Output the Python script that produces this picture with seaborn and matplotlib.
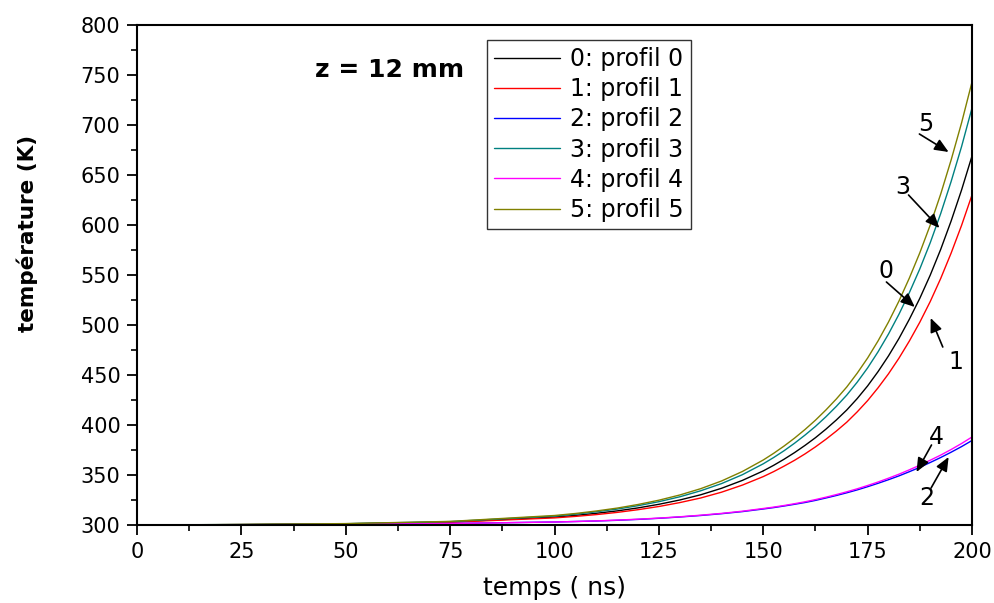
import matplotlib
matplotlib.use("Agg")
import matplotlib.pyplot as plt
import numpy as np
import pandas as pd
import seaborn as sns
from matplotlib.ticker import MultipleLocator

# ---------------- data ----------------
temps = [0, 25, 50, 75, 100, 105, 110, 115, 120, 125, 130, 135, 140, 145, 150,
         152.5, 155, 157.5, 160, 162.5, 165, 167.5, 170, 172.5, 175, 177.5,
         180, 182.5, 185, 187.5, 190, 192.5, 195, 197.5, 200]

profil_0 = [300, 300.4, 301.2, 303.0, 307.9, 309.6, 311.7, 314.1, 317.1, 320.7, 325.0, 330.2, 336.7, 344.6, 354.1,
            359.7, 365.8, 372.4, 379.6, 387.3, 395.8, 405.0, 415.0, 426.4, 439.1, 453.4,
            469.1, 486.5, 505.8, 526.7, 549.9, 575.6, 604.0, 635.0, 669.0]
profil_1 = [300, 300.4, 301.0, 302.7, 307.1, 308.6, 310.4, 312.6, 315.3, 318.5, 322.4, 327.0, 332.8, 339.9, 348.4,
            353.4, 358.9, 364.7, 371.1, 378.1, 385.7, 393.9, 402.8, 413.1, 424.4, 437.2,
            451.2, 466.8, 484.0, 502.8, 523.5, 546.5, 571.9, 599.6, 630.0]
profil_2 = [300, 300.2, 300.6, 301.5, 303.0, 303.5, 304.0, 304.7, 305.6, 306.7, 308.0, 309.5, 311.3, 313.4, 316.0,
            317.4, 319.0, 320.7, 322.5, 324.6, 327.0, 329.5, 332.2, 335.1, 338.3, 341.7,
            345.3, 349.1, 353.3, 357.7, 362.5, 367.5, 372.8, 378.4, 384.5]
profil_3 = [300, 300.5, 301.3, 303.4, 308.9, 310.8, 313.2, 315.9, 319.3, 323.3, 328.2, 334.2, 341.4, 350.3, 361.2,
            367.5, 374.3, 381.8, 389.9, 398.6, 408.2, 418.6, 429.9, 442.8, 457.1, 473.2,
            491.0, 510.7, 532.4, 556.1, 582.3, 611.4, 643.5, 678.4, 717.0]
profil_4 = [300, 300.2, 300.6, 301.5, 303.0, 303.5, 304.1, 304.9, 305.8, 306.9, 308.2, 309.8, 311.6, 313.8, 316.5,
            317.9, 319.5, 321.3, 323.2, 325.4, 327.8, 330.4, 333.2, 336.2, 339.5, 343.0,
            346.8, 350.8, 355.2, 359.8, 364.8, 369.9, 375.5, 381.5, 388.0]
profil_5 = [300, 300.5, 301.4, 303.6, 309.5, 311.5, 314.0, 316.9, 320.5, 324.8, 330.0, 336.3, 344.0, 353.5, 365.0,
            371.7, 379.0, 386.9, 395.5, 404.8, 415.0, 426.0, 438.0, 451.8, 467.0, 484.1,
            503.0, 523.9, 547.0, 572.2, 600.0, 630.9, 665.0, 702.1, 743.0]

labels = ["0: profil 0", "1: profil 1", "2: profil 2", "3: profil 3", "4: profil 4", "5: profil 5"]
colors = ["#000000", "#ff0000", "#0000ff", "#008080", "#ff00ff", "#808000"]

# annotation labels: text position, arrow tail, arrow tip (data coords)
ann_text = ["5", "3", "0", "1", "4", "2"]
ann_xy_text = [(188.9, 701), (183.4, 638), (179.5, 554), (196.1, 463), (191.5, 388), (189.1, 327)]
ann_tail = [(187.4, 691), (184.8, 630), (179.5, 543), (193.0, 478), (190.3, 380), (190.2, 337)]
ann_tip = [(194.4, 673), (192.2, 597), (186.3, 518), (190.1, 507), (186.7, 353), (194.4, 368)]

# ---------------- build long table ----------------
series = [profil_0, profil_1, profil_2, profil_3, profil_4, profil_5]
rows = []
for lab, vals in zip(labels, series):
    for t, v in zip(temps, vals):
        rows.append({"temps": t, "T": v, "profil": lab})
df = pd.DataFrame(rows)

sns.set_style("ticks")
plt.rcParams["font.family"] = ["DejaVu Sans"]
plt.rcParams["text.color"] = "black"
plt.rcParams["axes.labelcolor"] = "black"
plt.rcParams["xtick.color"] = "black"
plt.rcParams["ytick.color"] = "black"

fig = plt.figure(figsize=(9.94, 6.03), dpi=100)
ax = fig.add_axes([137 / 994, 78 / 603, 835 / 994, 500 / 603])

sns.lineplot(data=df, x="temps", y="T", hue="profil", hue_order=labels,
             palette=dict(zip(labels, colors)), linewidth=1.0, errorbar=None,
             ax=ax)

ax.set_xlim(0, 200)
ax.set_ylim(300, 800)
ax.xaxis.set_major_locator(MultipleLocator(25))
ax.xaxis.set_minor_locator(MultipleLocator(12.5))
ax.yaxis.set_major_locator(MultipleLocator(50))
ax.yaxis.set_minor_locator(MultipleLocator(25))
ax.tick_params(which="major", direction="out", length=7, width=1.3,
               labelsize=15, top=False, right=False, pad=5, colors="black")
ax.tick_params(which="minor", direction="out", length=4, width=1.2,
               top=False, right=False, colors="black")
for sp in ax.spines.values():
    sp.set_visible(True)
    sp.set_linewidth(1.5)
    sp.set_color("black")

ax.set_xlabel("temps ( ns)", fontsize=18, labelpad=10, color="black")
ax.set_ylabel("température (K)", fontsize=15.5, fontweight="bold", color="black")
ax.yaxis.set_label_coords(-0.119, 0.584)

handles, labs = ax.get_legend_handles_labels()
leg = ax.legend(handles, labs, loc="upper left", bbox_to_anchor=(0.419, 0.97),
                fontsize=17, frameon=True, fancybox=False, edgecolor="black",
                handlelength=2.8, handletextpad=0.42, labelspacing=0.26,
                borderpad=0.3, borderaxespad=0)
leg.get_frame().set_linewidth(1.0)
for h in leg.get_lines():
    h.set_linewidth(1.0)
for txt in leg.get_texts():
    txt.set_color("black")

ax.text(0.213, 0.91, "z = 12 mm", transform=ax.transAxes, fontsize=18,
        fontweight="bold", va="center", ha="left", color="black")

for s, pt, tail, tip in zip(ann_text, ann_xy_text, ann_tail, ann_tip):
    ax.text(pt[0], pt[1], s, fontsize=17, ha="center", va="center", color="black")
    ax.annotate("", xy=tip, xytext=tail,
                arrowprops=dict(arrowstyle="-|>,head_length=0.7,head_width=0.3",
                                color="black", lw=1.2, mutation_scale=12,
                                shrinkA=0, shrinkB=0))

fig.savefig("out.png", dpi=100)
